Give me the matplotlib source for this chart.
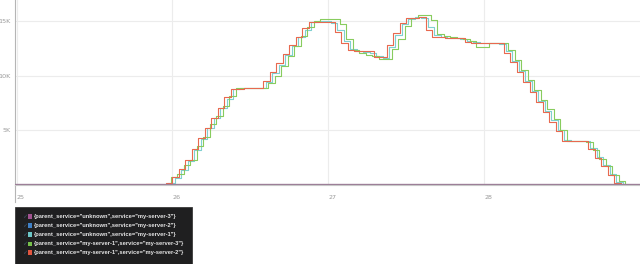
import matplotlib.pyplot as plt
from matplotlib.patches import Rectangle
import numpy as np

# hourly samples starting at hour 20 of day 25
first_hour = 20
red_vals = [0, 0, 0, 200, 700, 1500, 2300, 3300, 4300, 5200, 6100, 7000, 8000,
            8800, 8800, 8850, 8850, 8850, 9500, 10300, 11100, 12000, 12800, 13500,
            14300, 14900, 14900, 14900, 14850, 14000, 13000, 12300, 12250, 12200,
            12200, 11700, 11700, 12800, 13900, 14800, 15300, 15300, 15350, 14200,
            13500, 13500, 13450, 13400, 13400, 13100, 13000, 13000, 13000, 12950,
            12950, 12100, 11200, 10300, 9400, 8500, 7600, 6700, 5800, 4900, 4050,
            4050, 4000, 4000, 3300, 2500, 1700, 900, 200, 0, 0, 0]
teal_vals = [0, 0, 0, 150, 600, 1400, 2200, 3200, 4200, 5200, 6100, 7000, 7900,
             8800, 8850, 8850, 8850, 8850, 9400, 10200, 11000, 11900, 12700, 13500,
             14200, 14850, 14950, 14950, 14800, 14200, 13200, 12400, 12200, 12150,
             12100, 11800, 11600, 12600, 13700, 14700, 15200, 15350, 15300, 14400,
             13700, 13500, 13400, 13400, 13300, 13200, 13050, 13000, 13000, 12950,
             12900, 12200, 11300, 10400, 9500, 8600, 7700, 6800, 5900, 5000, 4100,
             4050, 4050, 4000, 3400, 2600, 1800, 1000, 300, 0, 0, 0]
green_vals = [0, 0, 0, 700, 1000, 1800, 2300, 3600, 4400, 5600, 6300, 7200, 8100,
              8850, 8850, 8850, 8900, 8900, 9300, 10000, 10900, 11800, 12700, 13600,
              14400, 15000, 15150, 15200, 15200, 14700, 13300, 12300, 12100, 11900,
              11800, 11500, 11500, 12400, 13300, 14500, 15300, 15500, 15550, 15100,
              13800, 13600, 13500, 13400, 13300, 13200, 12650, 12600, 13000, 13000,
              13000, 12300, 11400, 10500, 9600, 8700, 7800, 6900, 6000, 5000, 4000,
              4000, 4000, 3900, 3200, 2400, 1700, 900, 400, 0, 0, 0]
zero_vals = [0] * len(red_vals)

series = [
    ('{parent_service="unknown",service="my-server-3"}', '#a0528f', zero_vals, 0.0),
    ('{parent_service="unknown",service="my-server-2"}', '#3f80c5', zero_vals, 0.0),
    ('{parent_service="unknown",service="my-server-1"}', '#6cc6c6', teal_vals, 0.35),
    ('{parent_service="my-server-1",service="my-server-3"}', '#76c04a', green_vals, 0.75),
    ('{parent_service="my-server-1",service="my-server-2"}', '#e2553f', red_vals, 0.0),
]
line_colors = ['#9c7f98', '#9c7f98', '#7fd0d0', '#88cc5e', '#e8694f']
x_ticks = [25, 26, 27, 28]
y_ticks = [5000, 10000, 15000]
y_labels = ['5K', '10K', '15K']


def main():
    fig = plt.figure(figsize=(6.4, 2.64), dpi=100)
    ax = fig.add_axes([15 / 640, 79 / 264, 625 / 640, 185 / 264])
    ax.set_xlim(24.99, 29.0)
    ax.set_ylim(0, 16900)

    hours = np.arange(first_hour - 10, first_hour + len(red_vals) + 10)
    for (name, color, vals, shift), lc in zip(series[2:], line_colors[2:]):
        v = [0] * 10 + vals + [0] * 10
        t = 25 + (hours + shift) / 24.0
        ax.step(t, v, where='post', color=lc, lw=0.8, zorder=3)
    # the flat zero series sit on top of the baseline
    ax.axhline(0, color=line_colors[0], lw=1.7, zorder=5)

    ax.set_xticks(x_ticks)
    ax.set_xticklabels([str(x) for x in x_ticks])
    ax.set_yticks(y_ticks)
    ax.set_yticklabels(y_labels)
    ax.tick_params(length=0, labelsize=4.6, colors='#9a9a9a')
    ax.tick_params(axis='y', pad=3)
    ax.tick_params(axis='x', pad=7)
    for lbl in ax.get_xticklabels():
        lbl.set_horizontalalignment('left')
    ax.grid(True, color='#ececec', lw=0.8)
    ax.set_axisbelow(True)
    for s in ['top', 'right']:
        ax.spines[s].set_visible(False)
    ax.spines['left'].set_color('#b5b5b5')
    ax.spines['bottom'].set_color('#c8c8c8')
    ax.spines['left'].set_linewidth(0.8)
    ax.spines['bottom'].set_linewidth(0.8)
    ax.plot([0, 0], [0, -0.09], transform=ax.transAxes, color='#b5b5b5',
            lw=0.8, clip_on=False)

    # legend panel
    fig.patches.append(Rectangle((15 / 640, 0), 177 / 640, 57 / 264,
                                 transform=fig.transFigure, facecolor='#1f1f20',
                                 edgecolor='#3a3a3a', lw=0.6))
    y0 = 216.7
    for i, (name, color, vals, shift) in enumerate(series):
        yy = 1 - (y0 + i * 9.0) / 264
        fig.text(22 / 640, yy, '\u2713', color='#3e5266', fontsize=4.5,
                 va='center', ha='left')
        fig.patches.append(Rectangle((28 / 640, yy - 2.2 / 264), 4.4 / 640, 4.4 / 264,
                                     transform=fig.transFigure, facecolor=color,
                                     edgecolor='none'))
        fig.text(34 / 640, yy, name, color='#e6e6e6', fontsize=4.15,
                 family='Liberation Sans', fontweight='bold', va='center', ha='left')

    fig.savefig('out.png', dpi=100)


if __name__ == '__main__':
    main()
